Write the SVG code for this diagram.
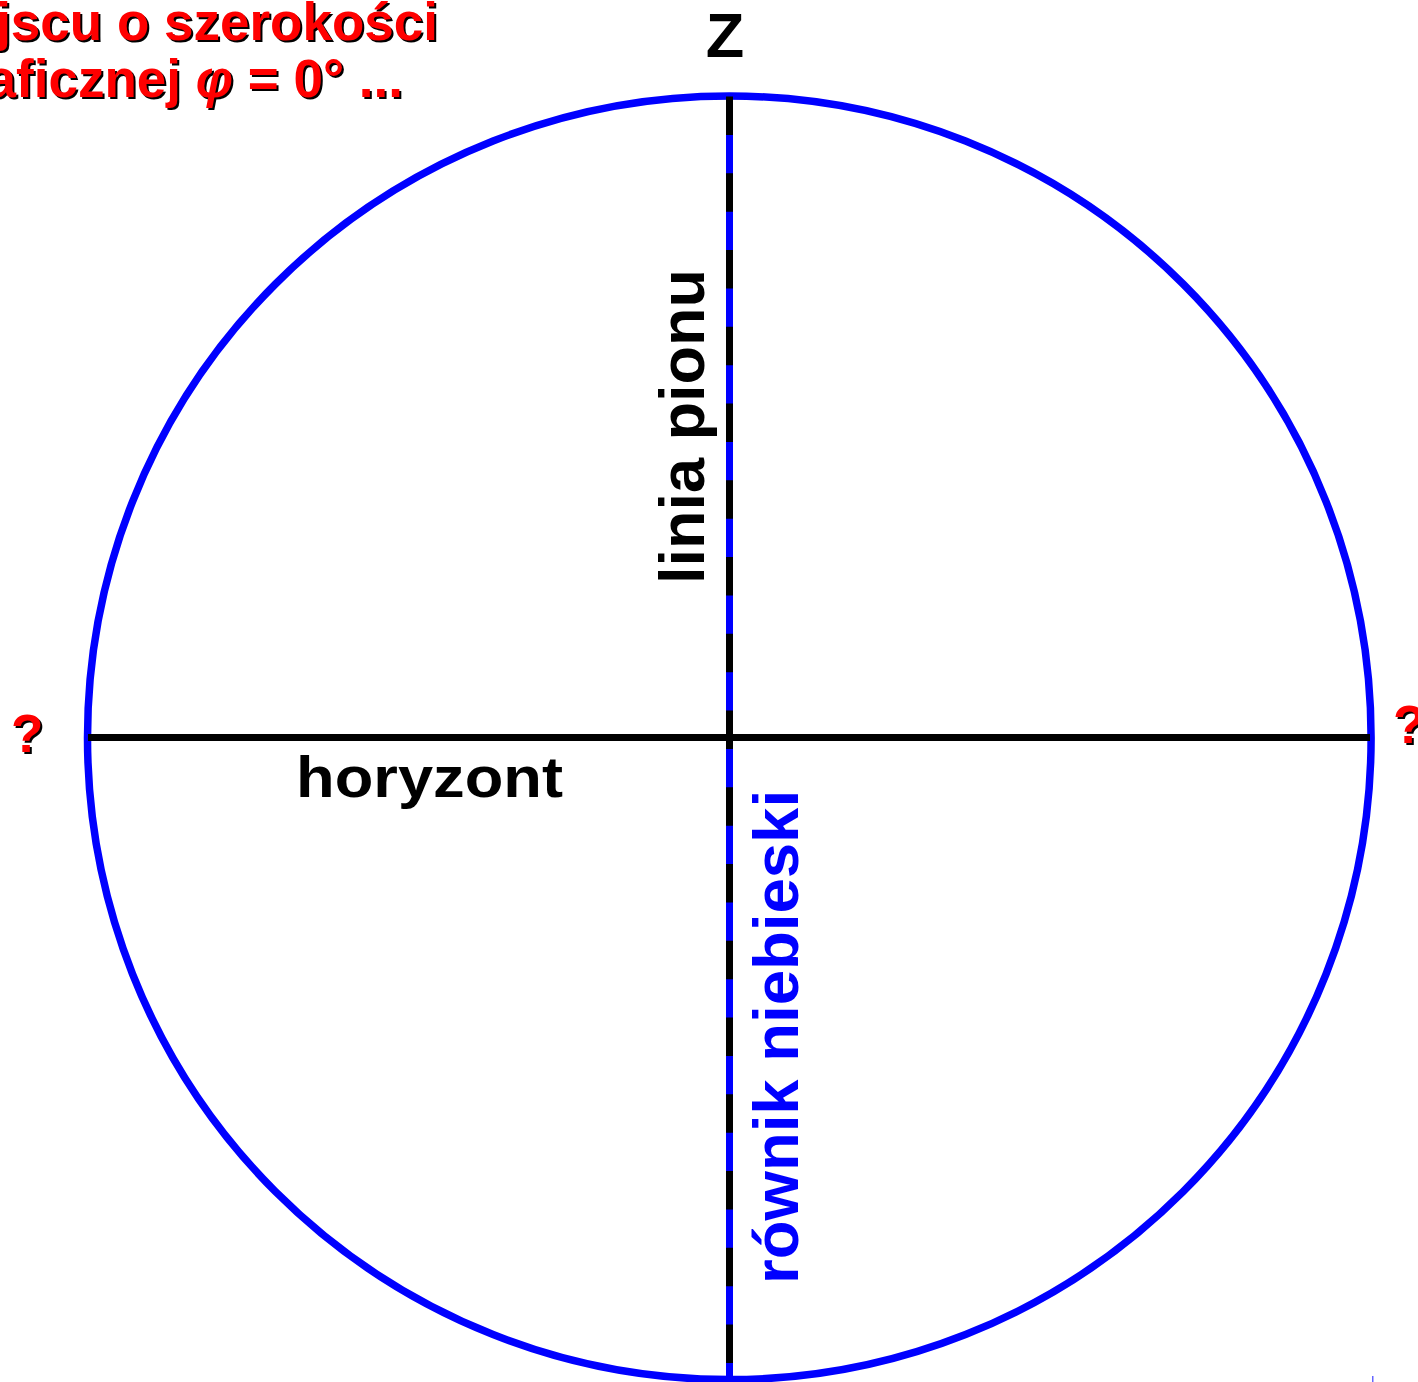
<svg xmlns="http://www.w3.org/2000/svg" width="1418" height="1382" viewBox="0 0 1418 1382">
<style>
  .b { font-family: "Liberation Sans", Arial, sans-serif; font-weight: bold; }
  .red { fill: #ff0000; }
  .sh { fill: #000000; }
</style>
<rect x="0" y="0" width="1418" height="1382" fill="#ffffff"/>
<g id="title">
  <g class="b" font-size="53" text-anchor="end">
    <text class="sh" x="440" y="42">jscu o szerokości</text>
    <text class="red" x="438" y="40">jscu o szerokości</text>
    <text class="sh" x="405" y="99">aficznej <tspan font-style="italic">φ</tspan> = 0° ...</text>
    <text class="red" x="403" y="97">aficznej <tspan font-style="italic">φ</tspan> = 0° ...</text>
  </g>
</g>
<g id="sphere">
  <circle cx="729.3" cy="737.8" r="641.8" fill="none" stroke="#0000ff" stroke-width="7.5"/>
</g>
<g id="connectors">
  <line id="horizon-line" x1="88" y1="737.5" x2="1370" y2="737.5" stroke="#000000" stroke-width="7"/>
  <line id="equator-line" x1="729.5" y1="96" x2="729.5" y2="1379" stroke="#0000ff" stroke-width="7"/>
  <line id="vertical-line" x1="729.5" y1="96" x2="729.5" y2="1379" stroke="#000000" stroke-width="7" stroke-dasharray="38.4 38.35" stroke-dashoffset="-0.5"/>
</g>
<g id="label-z">
  <text class="b" x="725" y="57" font-size="63" text-anchor="middle" fill="#000000">Z</text>
</g>
<g id="label-horyzont">
  <text class="b" x="296" y="797" font-size="57" textLength="267" lengthAdjust="spacingAndGlyphs" fill="#000000">horyzont</text>
</g>
<g id="label-linia-pionu">
  <text class="b" font-size="63" fill="#000000" transform="translate(704,584) rotate(-90)">linia pionu</text>
</g>
<g id="label-rownik">
  <text class="b" font-size="63.5" fill="#0000ff" transform="translate(798,1284) rotate(-90)">równik niebieski</text>
</g>
<g id="q-left">
  <text class="b sh" x="13" y="754" font-size="53">?</text>
  <text class="b red" x="11" y="752" font-size="53">?</text>
</g>
<g id="q-right">
  <text class="b sh" x="1395" y="745" font-size="53">?</text>
  <text class="b red" x="1393" y="743" font-size="53">?</text>
</g>
<rect x="1372" y="1376" width="1.5" height="6" fill="#6666ff"/>
</svg>
